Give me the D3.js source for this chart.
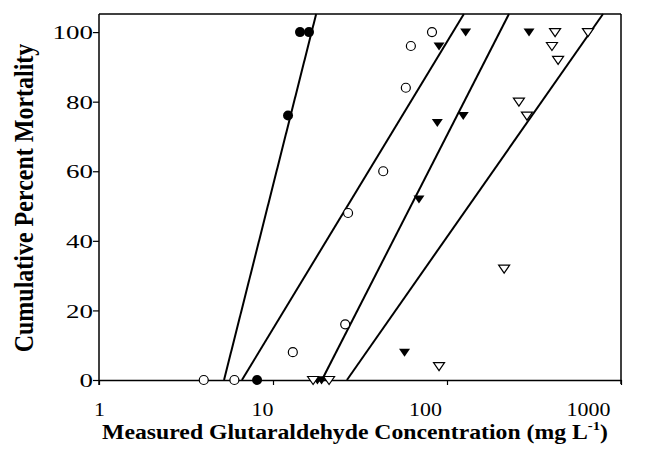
<!DOCTYPE html>
<html>
<head>
<meta charset="utf-8">
<script src="https://cdn.jsdelivr.net/npm/d3@7/dist/d3.min.js"></script>
<style>
  html, body { margin: 0; padding: 0; background: #fff; }
  svg { display: block; }
</style>
</head>
<body>
<svg id="chart" width="655" height="460"></svg>
<script>
// ---- data ----
const xTickValues = [1, 10, 100, 1000];
const yTickValues = [0, 20, 40, 60, 80, 100];

const filledCircles = [[8.1, 0], [12.2, 76], [14.3, 100], [16.1, 100]];
const openCircles = [[4, 0], [6, 0], [13, 8], [26, 16], [27, 48], [43, 60], [58, 84], [62, 96], [82, 100]];
const filledTriangles = [[18, 0], [19, 0], [57, 8], [69, 52], [88, 74], [124, 76], [90, 96], [128, 100], [296, 100]];
const openTriangles = [[17, 0], [21, 0], [90, 4], [213, 32], [288, 76], [259, 80], [435, 92], [401, 96], [418, 100], [646, 100]];

// fitted lines: [concentration at 0 %, concentration at top of plot]
const lineFilledCircles = [[5.23, 0], [17.7, 105.2]];
const lineOpenCircles = [[6.63, 0], [125, 105.2]];
const lineFilledTriangles = [[19.1, 0], [227, 105.2]];
const lineOpenTriangles = [[26.6, 0], [788, 105.2]];

const xTitle = "Measured Glutaraldehyde Concentration (mg L";
const xTitleSup = "-1";
const yTitle = "Cumulative Percent Mortality";

// ---- chart ----
const svg = d3.select("#chart");
const mLeft = 99, mRight = 621, mTop = 14, mBottom = 380;
const x = d3.scaleLog().domain([1, 1000]).range([mLeft, mRight]);
const y = d3.scaleLinear().domain([0, 105.2]).range([mBottom, mTop]);
const font = "'Liberation Serif', 'Times New Roman', serif";

// frame
const frame = svg.append("g").attr("stroke", "#000").attr("stroke-width", 1.5).attr("fill", "none");
frame.append("line").attr("x1", mLeft).attr("x2", mRight).attr("y1", mTop).attr("y2", mTop);
frame.append("line").attr("x1", mRight).attr("x2", mRight).attr("y1", mTop).attr("y2", mBottom + 4);
frame.append("line").attr("x1", mLeft).attr("x2", mLeft).attr("y1", mTop).attr("y2", mBottom + 5);

// x axis
const xAxis = svg.append("g").attr("transform", `translate(0,${mBottom})`)
  .call(d3.axisBottom(x).tickValues(xTickValues).tickFormat(d3.format("d"))
    .tickSize(5).tickSizeOuter(0).tickPadding(0));
xAxis.select(".domain").attr("stroke-width", 1.5);
xAxis.selectAll(".tick line").attr("stroke-width", 1.2);
xAxis.selectAll(".tick text")
  .attr("font-family", font).attr("font-size", 18).attr("fill", "#000")
  .attr("y", 0).attr("dy", 0)
  .attr("transform", d => `translate(${-(String(d).length - 1) * 11},36) scale(1.22,1)`);

// y axis
const yAxis = svg.append("g").attr("transform", `translate(${mLeft},0)`)
  .call(d3.axisLeft(y).tickValues(yTickValues).tickSize(6).tickSizeOuter(0).tickPadding(0));
yAxis.select(".domain").remove();
yAxis.selectAll(".tick line").attr("stroke-width", 1.2);
yAxis.selectAll(".tick text")
  .attr("font-family", font).attr("font-size", 19).attr("fill", "#000")
  .attr("x", 0).attr("dy", "0.35em")
  .attr("transform", "translate(-6,0) scale(1.42,1)");

// lines
const lineGen = d3.line().x(d => x(d[0])).y(d => y(d[1]));
[lineFilledCircles, lineOpenCircles, lineFilledTriangles, lineOpenTriangles].forEach(l => {
  svg.append("path").attr("d", lineGen(l)).attr("fill", "none")
    .attr("stroke", "#000").attr("stroke-width", 2);
});

// markers
const tri = "M-5.5,-3.5L5.5,-3.5L0,4.5Z";
svg.append("g").selectAll("circle").data(filledCircles).join("circle")
  .attr("cx", d => x(d[0])).attr("cy", d => y(d[1])).attr("r", 5).attr("fill", "#000");
svg.append("g").selectAll("circle").data(openCircles).join("circle")
  .attr("cx", d => x(d[0])).attr("cy", d => y(d[1])).attr("r", 4.5)
  .attr("fill", "#fff").attr("stroke", "#000").attr("stroke-width", 1.2);
svg.append("g").selectAll("path").data(filledTriangles).join("path")
  .attr("d", tri).attr("transform", d => `translate(${x(d[0])},${y(d[1])})`)
  .attr("fill", "#000");
svg.append("g").selectAll("path").data(openTriangles).join("path")
  .attr("d", tri).attr("transform", d => `translate(${x(d[0])},${y(d[1])})`)
  .attr("fill", "#fff").attr("stroke", "#000").attr("stroke-width", 1.2);

// titles
const xt = svg.append("text").attr("transform", "translate(355,439) scale(1.13,1)")
  .attr("text-anchor", "middle")
  .attr("font-family", font).attr("font-weight", "bold").attr("font-size", 21).attr("fill", "#000");
xt.append("tspan").text(xTitle);
xt.append("tspan").attr("font-size", 13).attr("dy", -9).text(xTitleSup);
xt.append("tspan").attr("dy", 9).text(")");

svg.append("text").attr("transform", "translate(33,198) rotate(-90) scale(1,1.1)")
  .attr("text-anchor", "middle")
  .attr("font-family", font).attr("font-weight", "bold").attr("font-size", 24).attr("fill", "#000")
  .text(yTitle);
</script>
</body>
</html>
